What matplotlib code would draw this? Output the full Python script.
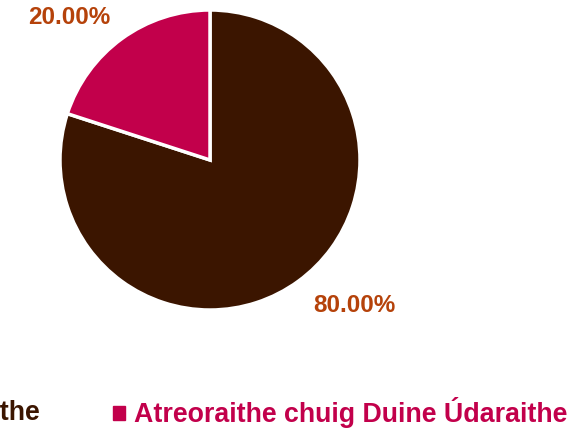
import matplotlib
matplotlib.use("Agg")
from matplotlib import pyplot as plt
from matplotlib.patches import Patch

# ------------------ data ------------------ #
labels = ["Réitithe", "Atreoraithe chuig Duine Údaraithe"]
values = [80.0, 20.0]
colors = ["#3b1500", "#c2004b"]
label_color = "#b5420a"
# where the percentage labels sit (data units, pie radius = 1)
label_pos = [(0.96, -0.967), (-0.94, 0.947)]

plt.rcParams['font.family'] = ['Liberation Sans', 'DejaVu Sans']

fig = plt.figure(figsize=(5.88, 4.28), dpi=100)
ax = fig.add_axes([60 / 588, 118 / 428, 300 / 588, 300 / 428])

wedges, texts, autotexts = ax.pie(
    values, colors=colors, startangle=90, counterclock=False,
    autopct='%.2f%%', pctdistance=1.3,
    wedgeprops=dict(edgecolor='white', linewidth=2.5),
    textprops=dict(color=label_color, fontsize=17.5, fontweight='bold'))
for t, p in zip(autotexts, label_pos):
    t.set_position(p)
ax.set_xlim(-1.0, 1.0)
ax.set_ylim(-1.0, 1.0)
ax.set_aspect('equal')

# legend at the bottom, first entry runs off the left edge
handles = [Patch(color=c) for c in colors]
legend_y = 15 / 428
common = dict(ncol=1, frameon=False, borderpad=0, borderaxespad=0,
              handlelength=0.45, handleheight=0.45, handletextpad=0.35,
              prop=dict(weight='bold', size=19.3))
leg1 = fig.legend(handles[:1], labels[:1], loc='center right',
                  bbox_to_anchor=(40 / 588, legend_y), **common)
leg2 = fig.legend(handles[1:], labels[1:], loc='center left',
                  bbox_to_anchor=(113 / 588, legend_y), **common)
for leg, c in zip([leg1, leg2], colors):
    for txt in leg.get_texts():
        txt.set_color(c)

fig.savefig("out.png", dpi=100)
